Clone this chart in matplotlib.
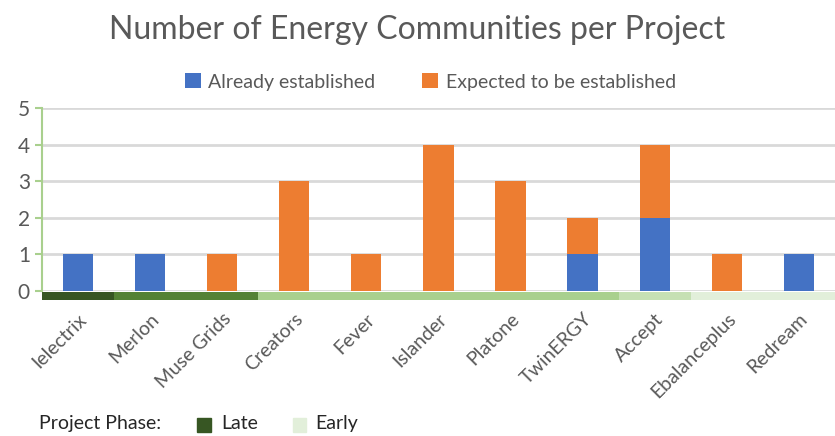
import matplotlib.pyplot as plt
import matplotlib.patches as mpatches
import numpy as np

plt.rcParams['font.family'] = ['Lato', 'DejaVu Sans']

projects = ["Ielectrix", "Merlon", "Muse Grids", "Creators", "Fever", "Islander",
            "Platone", "TwinERGY", "Accept", "Ebalanceplus", "Redream"]
established = [1, 1, 0, 0, 0, 0, 0, 1, 2, 0, 1]
expected = [0, 0, 1, 3, 1, 4, 3, 1, 2, 1, 0]
# phase of each project, 0 = late ... 4 = early
phase = [0, 1, 1, 2, 2, 2, 2, 2, 3, 4, 4]
phase_colors = ["#375623", "#548235", "#A9D08E", "#C6E0B4", "#E2EFDA"]

blue = "#4472C4"
orange = "#ED7D31"
grey = "#595959"

fig = plt.figure(figsize=(8.35, 4.36), dpi=100)
ax = fig.add_axes([0.050, 0.333, 0.950, 0.419])

x = np.arange(len(projects))
ax.bar(x, established, width=0.42, color=blue, label="Already established", zorder=3)
ax.bar(x, expected, width=0.42, bottom=established, color=orange,
       label="Expected to be established", zorder=3)

ax.set_xlim(-0.5, len(projects) - 0.5)
ax.set_ylim(0, 5)
ax.set_yticks(range(6))
ax.grid(axis='y', color="#D9D9D9", linewidth=2, zorder=0)
for s in ['top', 'right', 'bottom']:
    ax.spines[s].set_visible(False)
ax.spines['left'].set_color("#A9D08E")
ax.spines['left'].set_linewidth(1.5)
ax.tick_params(axis='y', colors="#A9D08E", labelcolor=grey, labelsize=15, length=5, width=1.5)
ax.tick_params(axis='x', length=0, labelsize=14, labelcolor=grey, pad=14)
ax.set_xticks(x)
ax.set_xticklabels(projects, rotation=45, ha='right', rotation_mode='anchor')

# phase band under the x axis
trans = ax.get_xaxis_transform()
for i, p in enumerate(phase):
    ax.add_patch(mpatches.Rectangle((i - 0.5, -0.05), 1, 0.045, transform=trans,
                                    color=phase_colors[p], clip_on=False, lw=0))

fig.suptitle("Number of Energy Communities per Project", y=0.965, fontsize=23, color=grey)
ax.legend(loc='lower center', bbox_to_anchor=(0.49, 1.0), ncol=2, frameon=False,
          fontsize=14, labelcolor=grey, handlelength=0.8, handleheight=0.8,
          columnspacing=2.4, handletextpad=0.4)

fig.text(0.047, 0.016, "Project Phase:", fontsize=14, color="#262626")
fig.patches.append(mpatches.Rectangle((0.236, 0.010), 0.017, 0.032, transform=fig.transFigure,
                                      color=phase_colors[0]))
fig.text(0.265, 0.016, "Late", fontsize=14, color="#262626")
fig.patches.append(mpatches.Rectangle((0.351, 0.010), 0.016, 0.032, transform=fig.transFigure,
                                      color=phase_colors[4]))
fig.text(0.377, 0.016, "Early", fontsize=14, color="#262626")

plt.savefig("out.png")
